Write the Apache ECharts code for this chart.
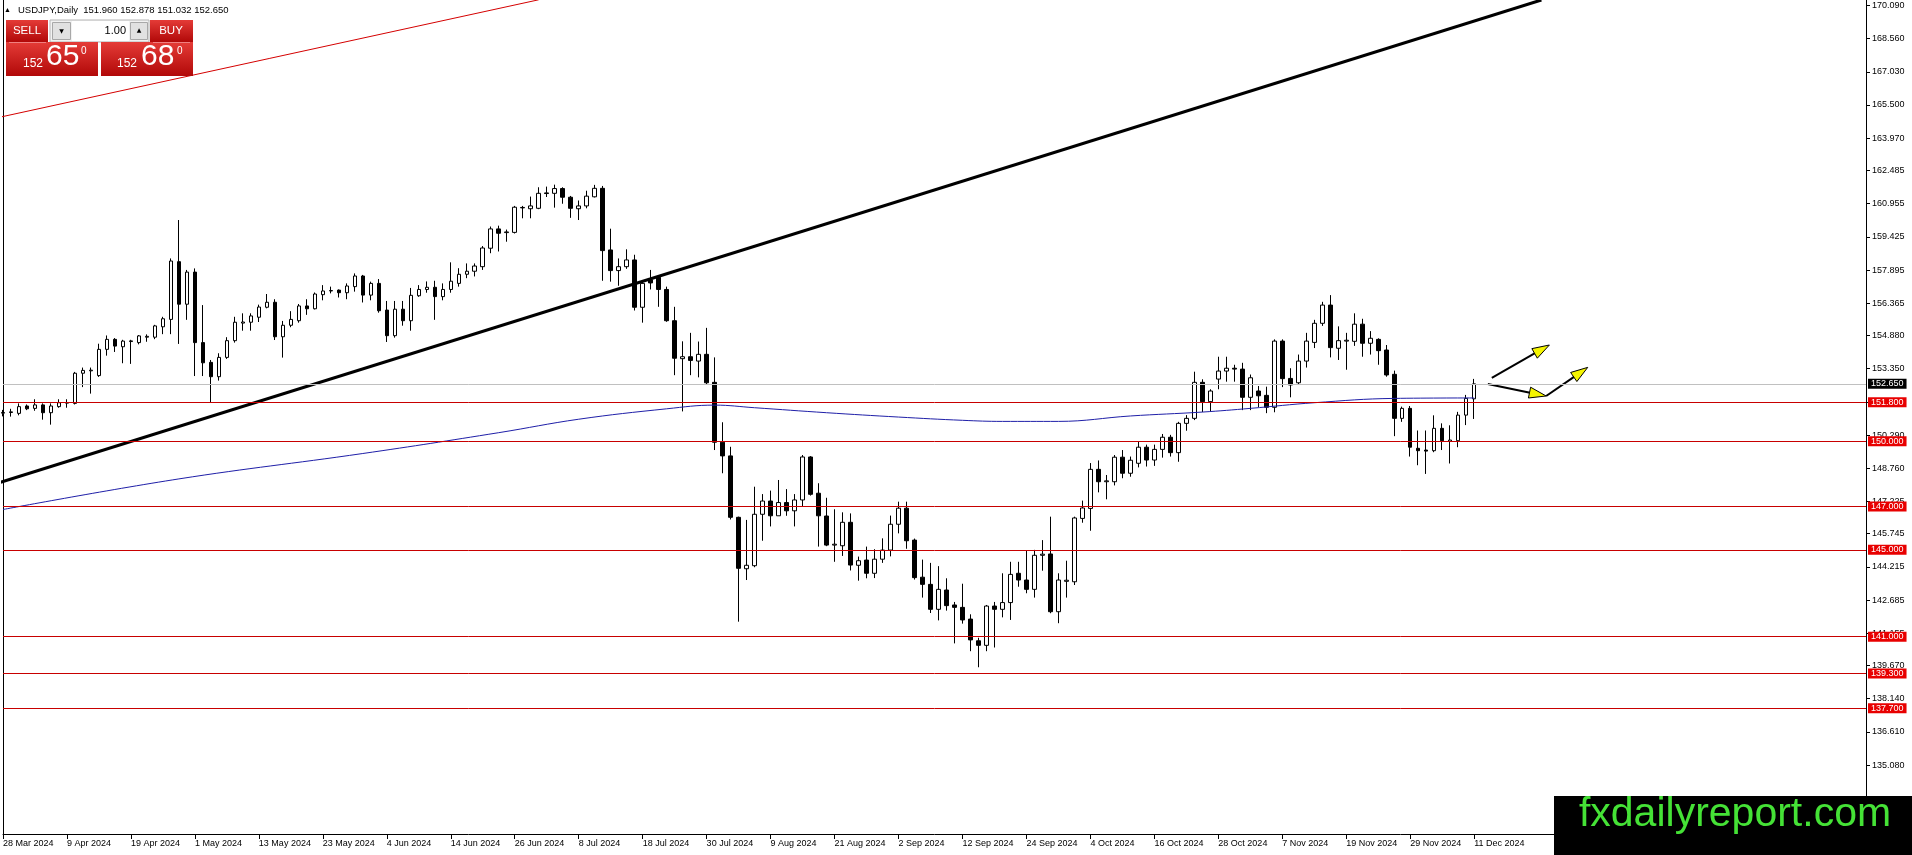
<!DOCTYPE html>
<html><head><meta charset="utf-8">
<script src="https://cdn.jsdelivr.net/npm/echarts@6/dist/echarts.min.js"></script>
<style>html,body{margin:0;padding:0;background:#fff;overflow:hidden}#c{width:1912px;height:855px}</style>
</head><body><div id="c"></div>
<script>
// ---- DATA ----
const openP = [151.30,151.33,151.29,151.63,151.52,151.68,151.32,151.60,151.76,151.75,153.14,153.25,153.03,154.24,154.70,154.36,154.60,154.55,154.80,154.80,
155.28,155.62,158.28,156.32,157.80,154.55,153.64,152.98,153.87,154.64,155.45,155.49,155.72,156.18,156.41,154.82,155.35,155.56,156.24,156.11,
156.76,156.93,156.97,156.85,157.13,157.62,156.74,157.28,156.05,154.87,156.09,155.56,156.71,157.00,157.10,156.67,157.00,157.28,157.70,157.84,
158.05,158.90,159.79,159.62,159.63,160.78,160.72,160.74,161.45,161.43,161.65,161.25,160.72,160.85,161.27,161.66,158.82,157.87,158.05,158.36,
156.18,157.44,157.56,157.00,155.56,153.81,153.90,153.70,154.01,152.72,149.96,149.33,146.50,144.13,144.27,146.64,147.25,146.57,147.18,146.80,
147.30,149.28,147.61,146.56,145.22,145.19,146.27,144.29,144.53,143.92,144.57,144.99,146.18,146.92,145.45,143.74,143.41,142.26,143.15,142.46,
142.35,141.81,140.81,140.60,142.41,142.26,142.57,143.92,143.61,143.18,144.75,144.81,142.15,143.55,143.53,146.45,146.91,148.71,148.14,148.14,
149.27,148.53,148.99,149.73,149.14,149.63,150.19,149.48,150.83,151.06,152.72,151.83,152.87,153.24,153.37,153.33,152.03,152.32,152.12,151.57,
154.62,152.90,152.70,153.70,154.56,155.44,156.28,154.29,154.62,154.61,155.40,154.52,154.70,154.21,153.09,151.06,151.52,149.68,149.60,149.57,
150.60,150.00,150.03,151.21,151.96];
const highP = [151.45,151.50,151.75,151.70,151.94,151.75,151.75,151.94,151.94,153.20,153.40,153.40,154.50,154.88,154.76,154.68,154.68,154.90,154.93,155.37,
155.74,158.43,160.20,157.90,157.97,156.28,153.75,154.06,154.80,155.74,155.90,155.90,156.30,156.79,156.55,155.55,156.00,156.33,156.55,156.86,
157.20,157.13,157.00,157.28,157.74,157.67,157.36,157.48,156.47,156.47,156.47,157.07,157.20,157.37,157.40,157.28,158.25,157.98,158.20,158.20,
159.00,159.90,159.94,159.76,160.85,160.85,161.28,161.71,161.74,161.83,161.71,161.31,161.10,161.55,161.82,161.77,159.80,158.43,158.85,158.60,
157.43,157.90,157.62,157.13,156.20,154.61,155.00,154.60,155.23,153.87,150.88,149.75,146.53,146.38,147.91,147.57,147.73,148.22,147.80,147.57,
149.37,149.32,148.07,147.40,146.87,146.73,146.68,144.69,145.15,145.03,145.53,146.58,147.22,147.22,145.52,144.55,144.40,144.25,143.69,142.60,
143.44,142.03,140.95,142.46,142.60,143.92,144.45,144.45,144.97,145.00,145.45,146.53,143.92,144.50,146.53,147.27,149.00,149.12,148.45,149.37,
149.60,149.30,149.98,149.85,149.85,150.34,150.30,150.90,151.21,153.21,152.86,152.40,153.90,153.90,153.53,153.62,153.08,152.55,152.52,154.70,
154.70,153.37,154.00,155.00,155.60,156.43,156.74,155.30,155.00,155.90,155.65,155.08,154.75,154.44,153.26,151.60,151.63,150.50,150.50,151.20,
150.83,150.74,151.36,152.14,152.878];
const lowP = [151.15,151.14,151.20,151.44,151.41,151.00,150.77,151.55,151.55,151.70,152.50,152.20,152.97,153.95,154.12,153.60,153.57,154.47,154.59,154.71,
154.94,154.94,154.49,155.60,153.01,153.01,151.80,152.80,153.80,154.55,155.10,155.10,155.50,156.13,154.67,153.86,155.26,155.47,155.83,156.08,
156.50,156.82,156.63,156.55,156.90,156.40,156.50,155.93,154.58,154.78,155.33,155.10,156.66,156.85,155.60,156.50,156.85,157.13,157.52,157.60,
157.90,158.67,158.75,159.20,159.58,160.28,160.28,160.70,161.26,160.77,160.95,160.30,160.20,160.74,161.24,157.40,157.36,157.17,157.95,156.03,
155.47,157.00,156.20,155.51,153.05,151.38,153.05,152.95,152.60,149.60,148.53,146.40,141.69,143.61,144.20,145.42,146.08,146.57,146.57,146.08,
147.02,147.50,145.15,145.17,144.45,144.72,144.05,143.58,143.69,143.70,144.40,144.70,145.76,145.05,143.63,142.80,142.09,141.75,142.20,140.69,
141.60,140.33,139.59,140.33,140.50,141.89,141.77,143.30,143.00,142.80,144.04,142.08,141.62,142.80,143.38,146.25,145.88,147.65,147.33,147.97,
148.30,148.37,148.80,148.84,148.87,149.25,149.30,149.06,150.49,150.98,151.35,151.39,152.40,152.75,152.75,151.44,151.44,151.58,151.30,151.34,
152.50,152.03,152.60,153.40,154.30,155.32,153.87,153.75,153.30,154.40,153.90,154.00,153.53,152.98,150.24,150.90,149.30,148.90,148.50,149.50,
149.60,148.98,149.73,150.75,151.032];
const closeP = [151.33,151.36,151.60,151.50,151.68,151.32,151.63,151.78,151.79,153.14,153.27,153.28,154.24,154.70,154.39,154.62,154.63,154.86,154.84,155.32,
155.65,158.31,156.32,157.80,154.55,153.62,152.98,153.87,154.64,155.49,155.50,155.78,156.19,156.41,154.82,155.35,155.62,156.24,156.11,156.79,
156.93,156.95,156.85,157.16,157.62,156.74,157.28,156.02,154.87,156.09,155.56,156.73,157.00,157.10,156.67,157.00,157.38,157.70,157.84,158.08,
158.91,159.79,159.59,159.65,160.79,160.76,160.85,161.43,161.42,161.65,161.25,160.74,160.85,161.30,161.66,158.79,157.87,158.05,158.36,156.18,
157.28,157.30,157.00,155.56,153.83,153.90,153.73,154.01,152.70,149.96,149.33,146.50,144.15,144.29,146.64,147.25,146.57,147.18,146.80,147.30,
149.28,147.56,146.57,145.22,145.26,146.27,144.30,144.50,143.92,144.57,144.99,146.18,146.92,145.42,143.72,143.41,142.26,143.18,142.43,142.35,
141.77,140.85,140.60,142.41,142.26,142.57,143.87,143.61,143.18,144.75,144.80,142.15,143.61,143.60,146.47,146.93,148.71,148.14,148.18,149.27,
148.53,149.13,149.73,149.14,149.63,150.19,149.48,150.83,151.06,152.72,151.83,152.32,153.24,153.37,153.33,152.03,152.93,152.10,151.57,154.62,
152.89,152.60,153.70,154.62,155.44,156.28,154.32,154.64,154.66,155.40,154.52,154.75,154.18,153.06,151.06,151.52,149.73,149.57,149.55,150.60,
150.03,150.06,151.21,151.98,152.65];

// moving average line, read at these bar positions
const maIdx = [0, 22, 45, 62, 72, 83, 89, 94, 103, 112, 120, 125, 132, 141, 150, 156, 164, 174, 184];
const maVal = [146.86, 148.27, 149.44, 150.40, 151.02, 151.50, 151.67, 151.55, 151.32, 151.12, 150.97, 150.92, 150.92, 151.17, 151.35, 151.52, 151.78, 151.98, 152.00];

// horizontal levels and current price
const levels = [151.8, 150.0, 147.0, 145.0, 141.0, 139.3, 137.7];
const currentPrice = 152.65;

// trend lines [bar, price]
const blackTrend = [[-0.375, 148.11], [192.4, 170.34]];
const redTrend = [[-0.375, 164.94], [67.0, 170.35]];

// arrows [fromBar, fromPrice, toBar, toPrice]
const arrows = [[186.2, 152.93, 193.4, 154.44], [185.7, 152.64, 193.0, 152.09], [193.0, 152.09, 198.2, 153.41]];

// price axis tick labels
const yTicks = [170.090,168.560,167.030,165.500,163.970,162.485,160.955,159.425,157.895,156.365,154.880,153.350,151.820,150.290,148.760,147.225,145.745,144.215,142.685,141.155,139.670,138.140,136.610,135.080];

// ---- build categories (trading days, weekends skipped) ----
const SLOTS = 234;
const MON = ['Jan','Feb','Mar','Apr','May','Jun','Jul','Aug','Sep','Oct','Nov','Dec'];
const cats = [];
(function(){
  const d = new Date(Date.UTC(2024, 2, 28));
  while (cats.length < SLOTS) {
    const wd = d.getUTCDay();
    if (wd !== 0 && wd !== 6) cats.push(d.getUTCDate() + ' ' + MON[d.getUTCMonth()] + ' ' + d.getUTCFullYear());
    d.setUTCDate(d.getUTCDate() + 1);
  }
})();
const NBARS = openP.length;
const labelFn = (i) => i % 8 === 0 && i < NBARS;

const candles = openP.map((o, i) => [o, closeP[i], lowP[i], highP[i]]);
const FONT = 'Tahoma, "Liberation Sans", Arial, sans-serif';

const chart = echarts.init(document.getElementById('c'), null, {renderer: 'canvas'});
const redGrad = {type: 'linear', x: 0, y: 0, x2: 0, y2: 1, colorStops: [{offset: 0, color: '#e43b37'}, {offset: 1, color: '#b10808'}]};

chart.setOption({
  animation: false,
  backgroundColor: '#fff',
  grid: {left: 3, right: 46, top: 0, bottom: 21, outerBoundsMode: 'none'},
  xAxis: [
    {type: 'category', data: cats, boundaryGap: false,
     axisLine: {onZero: false, lineStyle: {color: '#000', width: 1}},
     axisTick: {interval: labelFn, length: 5, lineStyle: {color: '#000'}},
     axisLabel: {interval: labelFn, align: 'left', margin: 5, fontSize: 9, color: '#000', fontFamily: FONT},
     splitLine: {show: false}},
    {type: 'value', min: 0, max: SLOTS - 1, show: false}
  ],
  yAxis: [
    {type: 'value', position: 'right', min: 131.906, max: 170.339, scale: true,
     axisLine: {show: true, onZero: false, lineStyle: {color: '#000', width: 1}},
     axisTick: {show: true, customValues: yTicks, length: 4, lineStyle: {color: '#000'}},
     axisLabel: {customValues: yTicks, formatter: v => v.toFixed(3), margin: 6, fontSize: 9, color: '#000', fontFamily: FONT},
     splitLine: {show: false}},
    {type: 'value', position: 'left', min: 131.906, max: 170.339,
     axisLine: {show: true, onZero: false, lineStyle: {color: '#000', width: 1}},
     axisTick: {show: false}, axisLabel: {show: false}, splitLine: {show: false}}
  ],
  series: [
    {type: 'candlestick', xAxisIndex: 0, yAxisIndex: 0, data: candles, barWidth: 4, silent: true,
     itemStyle: {color: '#fff', color0: '#000', borderColor: '#000', borderColor0: '#000', borderColorDoji: '#000', borderWidth: 1},
     markLine: {silent: true, symbol: 'none', animation: false,
       label: {position: 'end', distance: 2, color: '#fff', fontSize: 9, fontFamily: FONT, padding: [1, 3, 0, 3],
               formatter: p => Number(p.value).toFixed(3)},
       data: levels.map(v => ({yAxis: v, lineStyle: {color: '#c80000', width: 1, type: 'solid'}, label: {backgroundColor: '#e80000'}}))
             .concat([{yAxis: currentPrice, lineStyle: {color: '#c0c0c0', width: 1, type: 'solid'}, label: {backgroundColor: '#000'}}])
     }},
    {type: 'line', xAxisIndex: 1, yAxisIndex: 0, data: maIdx.map((x, i) => [x, maVal[i]]), smooth: 0.4, symbol: 'none', silent: true,
     lineStyle: {color: '#1f1fa8', width: 1}},
    {type: 'line', xAxisIndex: 1, yAxisIndex: 0, data: redTrend, symbol: 'none', silent: true,
     lineStyle: {color: '#d40000', width: 1}},
    {type: 'line', xAxisIndex: 1, yAxisIndex: 0, data: blackTrend, symbol: 'none', silent: true,
     lineStyle: {color: '#000', width: 3}},
    {type: 'custom', xAxisIndex: 1, yAxisIndex: 0, data: arrows, silent: true, clip: false,
     encode: {x: [0, 2], y: [1, 3]},
     renderItem: function (params, api) {
       const p1 = api.coord([api.value(0), api.value(1)]);
       const p2 = api.coord([api.value(2), api.value(3)]);
       const dx = p2[0] - p1[0], dy = p2[1] - p1[1];
       const len = Math.sqrt(dx * dx + dy * dy) || 1;
       const ux = dx / len, uy = dy / len;
       const hl = 17, hw = 5.5;
       const bx = p2[0] - ux * hl, by = p2[1] - uy * hl;
       return {type: 'group', children: [
         {type: 'line', shape: {x1: p1[0], y1: p1[1], x2: bx + ux * 3, y2: by + uy * 3}, style: {stroke: '#000', lineWidth: 2}},
         {type: 'polygon', shape: {points: [[p2[0], p2[1]], [bx - uy * hw, by + ux * hw], [bx + uy * hw, by - ux * hw]]},
          style: {fill: '#f5f500', stroke: '#000', lineWidth: 1}}
       ]};
     }}
  ],
  graphic: [
    {type: 'text', z: 100, left: 4, top: 7, style: {text: '▲', fontSize: 7, fill: '#000', fontFamily: FONT}},
    {type: 'text', z: 100, left: 18, top: 5, style: {text: 'USDJPY,Daily  151.960 152.878 151.032 152.650', fontSize: 9.5, fill: '#000', fontFamily: FONT}},
    // panel
    {type: 'rect', z: 100, shape: {x: 50, y: 20, width: 99, height: 22}, style: {fill: '#f2f2f2', stroke: '#b5b5b5', lineWidth: 1}},
    {type: 'rect', z: 101, shape: {x: 52.5, y: 22.5, width: 18, height: 17}, style: {fill: '#e1e1e1', stroke: '#a8a8a8', lineWidth: 1}},
    {type: 'text', z: 102, x: 61.5, y: 31, style: {text: '▼', fontSize: 6, fill: '#000', align: 'center', verticalAlign: 'middle', fontFamily: '"DejaVu Sans", sans-serif'}},
    {type: 'rect', z: 101, shape: {x: 72, y: 21, width: 57, height: 20}, style: {fill: '#fff'}},
    {type: 'text', z: 102, x: 126, y: 31, style: {text: '1.00', fontSize: 11, fill: '#000', align: 'right', verticalAlign: 'middle', fontFamily: FONT}},
    {type: 'rect', z: 101, shape: {x: 130.5, y: 22.5, width: 17, height: 17}, style: {fill: '#e1e1e1', stroke: '#a8a8a8', lineWidth: 1}},
    {type: 'text', z: 102, x: 139, y: 30.5, style: {text: '▲', fontSize: 6, fill: '#000', align: 'center', verticalAlign: 'middle', fontFamily: '"DejaVu Sans", sans-serif'}},
    {type: 'rect', z: 100, shape: {x: 6, y: 20, width: 42, height: 22}, style: {fill: redGrad}},
    {type: 'text', z: 101, x: 27, y: 31, style: {text: 'SELL', fontSize: 11.5, fill: '#fff', align: 'center', verticalAlign: 'middle', fontFamily: FONT}},
    {type: 'rect', z: 100, shape: {x: 150, y: 20, width: 43, height: 22}, style: {fill: redGrad}},
    {type: 'text', z: 101, x: 171, y: 31, style: {text: 'BUY', fontSize: 11.5, fill: '#fff', align: 'center', verticalAlign: 'middle', fontFamily: FONT}},
    {type: 'rect', z: 100, shape: {x: 6, y: 42, width: 92, height: 34}, style: {fill: redGrad}},
    {type: 'rect', z: 100, shape: {x: 101, y: 42, width: 92, height: 34}, style: {fill: redGrad}},
    {type: 'line', z: 101, shape: {x1: 9, y1: 42.5, x2: 46, y2: 42.5}, style: {stroke: '#f08080', lineWidth: 1}},
    {type: 'line', z: 101, shape: {x1: 153, y1: 42.5, x2: 190, y2: 42.5}, style: {stroke: '#f08080', lineWidth: 1}},
    {type: 'text', z: 101, x: 23, y: 70, style: {text: '152', fontSize: 12, fill: '#fff', verticalAlign: 'bottom', fontFamily: FONT}},
    {type: 'text', z: 101, x: 46, y: 72, style: {text: '65', fontSize: 30, fill: '#fff', verticalAlign: 'bottom', fontFamily: FONT}},
    {type: 'text', z: 101, x: 81, y: 46, style: {text: '0', fontSize: 10, fill: '#fff', verticalAlign: 'top', fontFamily: FONT}},
    {type: 'text', z: 101, x: 117, y: 70, style: {text: '152', fontSize: 12, fill: '#fff', verticalAlign: 'bottom', fontFamily: FONT}},
    {type: 'text', z: 101, x: 141, y: 72, style: {text: '68', fontSize: 30, fill: '#fff', verticalAlign: 'bottom', fontFamily: FONT}},
    {type: 'text', z: 101, x: 177, y: 46, style: {text: '0', fontSize: 10, fill: '#fff', verticalAlign: 'top', fontFamily: FONT}},
    // watermark
    {type: 'rect', z: 100, shape: {x: 1554, y: 796, width: 358, height: 59}, style: {fill: '#000'}},
    {type: 'text', z: 101, x: 1735, y: 835, style: {text: 'fxdailyreport.com', fontSize: 41, fill: '#45e236', align: 'center', verticalAlign: 'bottom', fontFamily: '"Liberation Sans", Arial, sans-serif'}}
  ]
});
</script>
</body></html>
